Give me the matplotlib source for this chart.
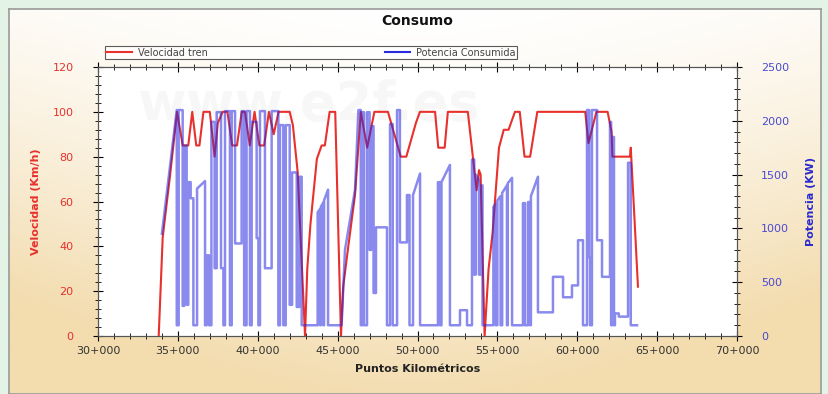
import numpy as np
import matplotlib
matplotlib.use("Agg")
import matplotlib.pyplot as plt
from matplotlib.colors import to_rgb
from matplotlib.ticker import MultipleLocator, FuncFormatter

# speed profile (km, km/h)
vel_km = [33.80, 34.05, 34.50, 34.95, 35.30, 35.65, 35.90, 36.15, 36.35, 36.60,
          37.00, 37.30, 37.50, 37.80, 38.10, 38.40, 38.70, 39.00, 39.20, 39.50,
          39.80, 40.10, 40.40, 40.70, 41.00, 41.30, 42.00, 42.20, 42.50, 42.96,
          43.10, 43.30, 43.70, 44.00, 44.20, 44.50, 44.85, 45.21,
          45.35, 45.65, 46.09, 46.45, 46.85, 47.30, 48.15, 48.95, 49.30, 49.90,
          50.15, 51.10, 51.30, 51.70, 51.90, 53.15, 53.70, 53.85, 53.95, 54.20,
          54.45, 54.70, 55.10, 55.40, 55.70, 56.10, 56.40, 56.70, 57.05, 57.50,
          60.50, 60.70, 61.20, 61.90, 62.15, 62.20, 63.30, 63.35, 63.60, 63.80]
vel_kmh = [0, 44, 71, 100, 85, 85, 100, 85, 85, 100,
           100, 80, 95, 100, 100, 85, 85, 100, 100, 85,
           100, 85, 85, 100, 90, 100, 100, 94, 73, 0,
           30, 50, 79, 85, 85, 100, 100, 0,
           22, 39, 63, 100, 84, 100, 100, 80, 80, 95,
           100, 100, 84, 84, 100, 100, 65, 74, 72, 0,
           30, 46, 84, 92, 92, 100, 100, 80, 80, 100,
           100, 86, 100, 100, 91, 80, 80, 84, 50, 22]

# consumed power (km, kW)
pot_km = [34.00, 34.93, 34.93, 35.05, 35.05, 35.30, 35.30, 35.40, 35.40, 35.55,
          35.55, 35.65, 35.65, 35.80, 35.80, 35.97, 35.97, 36.20, 36.20, 36.70,
          36.70, 36.80, 36.80, 36.95, 36.95, 37.10, 37.10, 37.30, 37.30, 37.43,
          37.43, 37.70, 37.70, 37.85, 37.85, 37.95, 37.95, 38.26, 38.26, 38.37,
          38.37, 38.58, 38.58, 38.99, 38.99, 39.15, 39.15, 39.30, 39.30, 39.51,
          39.51, 39.62, 39.62, 39.93, 39.93, 40.04, 40.04, 40.14, 40.14, 40.45,
          40.45, 40.87, 40.87, 41.29, 41.29, 41.39, 41.39, 41.60, 41.60, 41.75,
          41.75, 42.00, 42.00, 42.15, 42.15, 42.44, 42.44, 42.60, 42.60, 42.75,
          42.75, 43.75, 43.75, 43.90, 43.90, 43.95, 43.95, 44.10, 44.10, 44.15,
          44.15, 44.40, 44.40, 45.25, 45.46, 46.09, 46.30, 46.45, 46.45, 46.55,
          46.55, 46.65, 46.65, 46.84, 46.84, 47.00, 47.00, 47.10, 47.10, 47.25,
          47.25, 47.40, 47.40, 48.09, 48.09, 48.28, 48.28, 48.45, 48.45, 48.72,
          48.72, 48.90, 48.90, 49.34, 49.34, 49.50, 49.50, 49.72, 49.72, 50.16,
          50.16, 51.28, 51.28, 51.40, 51.40, 51.50, 51.50, 52.03, 52.03, 52.66,
          52.66, 53.10, 53.10, 53.41, 53.41, 53.55, 53.55, 53.65, 53.65, 53.85,
          53.85, 54.00, 54.00, 54.07, 54.07, 54.75, 54.75, 54.90, 54.90, 55.00,
          55.00, 55.20, 55.20, 55.30, 55.30, 55.60, 55.60, 55.65, 55.65, 55.92,
          55.92, 56.60, 56.60, 56.73, 56.73, 56.92, 56.92, 57.05, 57.05, 57.10,
          57.10, 57.54, 57.54, 58.48, 58.48, 59.11, 59.11, 59.67, 59.67, 60.05,
          60.05, 60.36, 60.36, 60.61, 60.61, 60.75, 60.75, 60.80, 60.80, 60.92,
          60.92, 61.24, 61.24, 61.55, 61.55, 62.05, 62.05, 62.12, 62.12, 62.17,
          62.17, 62.30, 62.30, 62.36, 62.36, 62.60, 62.60, 63.18, 63.18, 63.35,
          63.35, 63.74]
pot_kw = [950, 2100, 100, 100, 2100, 2100, 280, 280, 1770, 1770,
          290, 290, 1430, 1430, 1280, 1280, 100, 100, 1370, 1440,
          100, 100, 750, 750, 100, 100, 1990, 1990, 630, 630,
          2080, 2080, 630, 630, 100, 100, 2090, 2090, 100, 100,
          2090, 2090, 860, 860, 2090, 2090, 100, 100, 2090, 2090,
          100, 100, 1990, 1990, 910, 910, 100, 100, 2090, 2090,
          630, 630, 2090, 2090, 100, 100, 1960, 1960, 100, 100,
          1960, 1960, 290, 290, 1520, 1520, 270, 270, 1480, 1480,
          100, 100, 1150, 1180, 100, 100, 1200, 1240, 100, 100,
          1260, 1360, 100, 100, 800, 1360, 2100, 2100, 100, 100,
          2080, 2080, 100, 100, 2080, 2080, 800, 800, 1950, 1950,
          400, 400, 1010, 1010, 100, 100, 1970, 1970, 100, 100,
          2100, 2100, 870, 870, 1310, 1310, 100, 100, 1310, 1510,
          100, 100, 1430, 1430, 100, 100, 1430, 1590, 100, 100,
          240, 240, 100, 100, 1640, 1640, 570, 570, 1500, 1450,
          570, 570, 1400, 1400, 100, 100, 1200, 1230, 100, 100,
          1260, 1300, 100, 100, 1330, 1400, 100, 100, 1420, 1470,
          100, 100, 1235, 1235, 100, 100, 1245, 1245, 100, 100,
          1300, 1480, 220, 220, 550, 550, 360, 360, 470, 470,
          890, 890, 100, 100, 2100, 2100, 730, 730, 100, 100,
          2100, 2100, 890, 890, 550, 550, 1990, 1990, 100, 100,
          1850, 1850, 100, 100, 210, 210, 180, 180, 1610, 1610,
          100, 100]

RED = "#e8302c"
BLUE = "#2a2ae0"

fig = plt.figure(figsize=(8.29, 3.94), dpi=100)
fig.patch.set_facecolor("#e3f3e6")

# panel with white -> tan gradient
bg = fig.add_axes([9 / 829, 0, 812 / 829, 1 - 9 / 394], zorder=-10)
h, w = 200, 400
vv = np.linspace(0, 1, h)[:, None]
hh = np.linspace(0, 1, w)[None, :]
t = np.clip(0.95 * vv ** 1.3 + 0.9 * np.abs(hh - 0.5) ** 1.6 * (0.4 + vv), 0, 1)
c0 = np.array(to_rgb("#ffffff"))
c1 = np.array(to_rgb("#f3dcae"))
img = c0[None, None, :] * (1 - t[..., None]) + c1[None, None, :] * t[..., None]
bg.imshow(img, aspect="auto", extent=[0, 1, 0, 1])
bg.set_xticks([])
bg.set_yticks([])
for s in bg.spines.values():
    s.set_color("#9a9a9a")
    s.set_linewidth(1.2)

ax = fig.add_axes([98 / 829, 1 - 336 / 394, 639 / 829, 269 / 394])
ax.set_facecolor("white")
ax2 = ax.twinx()

ax.text(0.33, 0.86, "www.e2f.es", transform=ax.transAxes, fontsize=38,
        fontweight="bold", color="#d8d8d8", alpha=0.18, ha="center", va="center")

l1, = ax.plot(vel_km, vel_kmh, color=RED, lw=1.5, label="Velocidad tren", zorder=3)
l2, = ax2.plot(pot_km, pot_kw, color=BLUE, lw=1.8, alpha=0.55, label="Potencia Consumida")

ax.set_xlim(30, 70)
ax.set_ylim(0, 120)
ax2.set_ylim(0, 2500)

ax.xaxis.set_major_locator(MultipleLocator(5))
ax.xaxis.set_minor_locator(MultipleLocator(1))
ax.xaxis.set_major_formatter(FuncFormatter(lambda v, p: f"{int(v)}+000"))
ax.yaxis.set_major_locator(MultipleLocator(20))
ax.yaxis.set_minor_locator(MultipleLocator(4))
ax2.yaxis.set_major_locator(MultipleLocator(500))
ax2.yaxis.set_minor_locator(MultipleLocator(100))

ax.tick_params(axis="x", which="both", direction="inout", top=True, labelsize=8,
               labelcolor="#333333")
ax.tick_params(axis="x", which="major", length=7)
ax.tick_params(axis="x", which="minor", length=4)
ax.tick_params(axis="y", which="major", direction="inout", length=7, labelsize=8,
               labelcolor=RED, pad=14)
ax.tick_params(axis="y", which="minor", direction="inout", length=4)
ax2.tick_params(axis="y", which="major", direction="inout", length=7, labelsize=8,
                labelcolor="#4a4ad0", pad=14)
ax2.tick_params(axis="y", which="minor", direction="inout", length=4)

for a in (ax, ax2):
    for s in a.spines.values():
        s.set_color("#555555")
        s.set_linewidth(0.8)

ax.set_xlabel("Puntos Kilométricos", fontsize=8, fontweight="bold", color="#222222",
              labelpad=6)
ax.set_ylabel("Velocidad (Km/h)", fontsize=8, fontweight="bold", color=RED, labelpad=8)
ax2.set_ylabel("Potencia (KW)", fontsize=8, fontweight="bold", color="#2a2ad0",
               labelpad=12)

fig.text(417 / 829, 1 - 21 / 394, "Consumo", ha="center", va="center",
         fontsize=10, fontweight="bold", color="#111111")

leg = fig.legend([l1, l2], ["Velocidad tren", "Potencia Consumida"], ncol=2,
                 loc="lower left", mode="expand",
                 bbox_to_anchor=(105 / 829, 1 - 59 / 394, 412 / 829, 16 / 394),
                 fontsize=7, frameon=True, fancybox=False, borderpad=0.15,
                 handlelength=2.6, handletextpad=0.6, borderaxespad=0,
                 labelcolor="#444444")
leg.get_frame().set_edgecolor("#333333")
leg.get_frame().set_linewidth(0.8)
for lh in leg.get_lines():
    lh.set_alpha(1)
    lh.set_linewidth(1.5)

fig.savefig("out.png", dpi=100, facecolor=fig.get_facecolor())
